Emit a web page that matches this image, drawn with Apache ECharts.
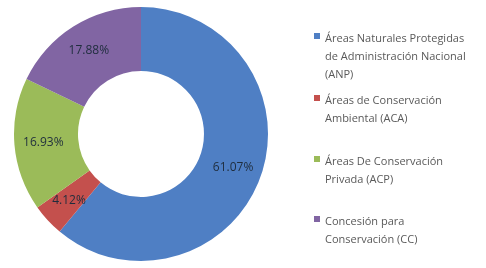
<!DOCTYPE html>
<html>
<head>
<meta charset="utf-8">
<script src="https://cdn.jsdelivr.net/npm/echarts@6/dist/echarts.min.js"></script>
<style>
html,body{margin:0;padding:0;background:#fff;}
#main{width:486px;height:268px;}
</style>
</head>
<body>
<div id="main"></div>
<script>
// categorias y valores (%)
var categorias = [
    'Áreas Naturales Protegidas\nde Administración Nacional\n(ANP)',
    'Áreas de Conservación\nAmbiental (ACA)',
    'Áreas De Conservación\nPrivada (ACP)',
    'Concesión para\nConservación (CC)'
];
var valores = [61.07, 4.12, 16.93, 17.88];
var colores = ['#4f7fc4', '#c4504d', '#9bbb59', '#8165a3'];
var legendTop = [25, 87, 148, 208];

var chart = echarts.init(document.getElementById('main'));
var datos = [];
for (var i = 0; i < categorias.length; i++) {
    datos.push({ name: categorias[i], value: valores[i], itemStyle: { color: colores[i] } });
}
// una leyenda por item, el espaciado no es uniforme
var leyendas = [];
for (var j = 0; j < categorias.length; j++) {
    var lineas = categorias[j].split('\n').length;
    var alto = lineas * 18;
    leyendas.push({
        data: [categorias[j]],
        left: 309,
        top: legendTop[j],
        orient: 'vertical',
        itemWidth: 6,
        itemHeight: alto,
        itemGap: 0,
        // cuadrado arriba, alineado con la primera linea
        icon: 'path://M0,6h6v6h-6z M0,' + alto + 'h0.01',
        textStyle: { color: '#595959', fontSize: 11, lineHeight: 18, fontFamily: 'Open Sans' }
    });
}
var option = {
    animation: false,
    legend: leyendas,
    series: [{
        type: 'pie',
        center: [141, 134],
        radius: [63, 127],
        startAngle: 90,
        clockwise: true,
        data: datos,
        label: {
            show: true,
            position: 'inside',
            color: '#1f2d3d',
            fontSize: 12,
            fontFamily: 'Open Sans',
            formatter: function (p) { return p.value.toFixed(2) + '%'; }
        },
        labelLine: { show: false }
    }]
};
chart.setOption(option);
</script>
</body>
</html>
